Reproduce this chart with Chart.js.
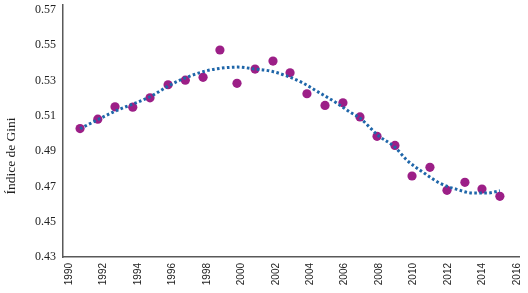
<!DOCTYPE html>
<html>
<head>
<meta charset="utf-8">
<script src="https://cdn.jsdelivr.net/npm/chart.js@4"></script>
<style>
  html, body { margin: 0; padding: 0; background: #fff; }
  #grafico { display: block; }
</style>
</head>
<body>
<canvas id="grafico" width="528" height="293"></canvas>
<script>
// puntos observados (año, índice de Gini)
const anios = [1990.64, 1991.67, 1992.67, 1993.70, 1994.70, 1995.75, 1996.75, 1997.78, 1998.76, 1999.75,
  2000.80, 2001.84, 2002.83, 2003.81, 2004.86, 2005.90, 2006.89, 2007.88, 2008.92, 2009.91,
  2010.95, 2011.94, 2012.98, 2013.97, 2015.01];
const gini = [0.5028, 0.5081, 0.5151, 0.5149, 0.5202, 0.5276, 0.5302, 0.5318, 0.5473, 0.5284,
  0.5365, 0.5410, 0.5344, 0.5225, 0.5159, 0.5174, 0.5094, 0.4984, 0.4932, 0.4759,
  0.4808, 0.4678, 0.4723, 0.4685, 0.4644];

// línea de tendencia
const tendAnios = [1990.64, 1992.67, 1994.70, 1995.75, 1996.44, 1997.78, 1998.76, 1999.80, 2000.80, 2001.67,
  2002.66, 2003.59, 2004.57, 2005.55, 2006.31, 2006.89, 2007.93, 2008.92, 2009.62, 2010.55,
  2011.53, 2012.52, 2013.45, 2014.26, 2015.01];
const tendValores = [0.5027, 0.5126, 0.5208, 0.5268, 0.5302, 0.5350, 0.5369, 0.5376, 0.5365, 0.5354,
  0.5325, 0.5285, 0.5229, 0.5172, 0.5121, 0.5087, 0.4990, 0.4922, 0.4848, 0.4780,
  0.4718, 0.4683, 0.4662, 0.4662, 0.4675];

const ticksX = [1990, 1992, 1994, 1996, 1998, 2000, 2002, 2004, 2006, 2008, 2010, 2012, 2014, 2016];
const ticksY = [0.43, 0.45, 0.47, 0.49, 0.51, 0.53, 0.55, 0.57];
const tituloY = 'Índice de Gini';

const puntos = anios.map((a, i) => ({x: a, y: gini[i]}));
const tendencia = tendAnios.map((a, i) => ({x: a, y: tendValores[i]}));

const colorEje = '#595959';

// el título del eje Y va algo más abajo que el centro del eje, como en el original
const tituloEjeY = {
  id: 'tituloEjeY',
  afterDraw(chart) {
    const ctx = chart.ctx;
    ctx.save();
    ctx.translate(11, 156);
    ctx.rotate(-Math.PI / 2);
    ctx.fillStyle = '#222';
    ctx.font = '13.5px "Liberation Serif"';
    ctx.textAlign = 'center';
    ctx.textBaseline = 'middle';
    ctx.fillText(tituloY, 0, 0);
    ctx.restore();
  }
};

const config = {
  type: 'scatter',
  data: {
    datasets: [
      {
        label: 'Tendencia',
        data: tendencia,
        showLine: true,
        cubicInterpolationMode: 'monotone',
        borderColor: '#1f66a9',
        borderWidth: 3,
        borderDash: [2.6, 2.4],
        pointRadius: 0,
        order: 0
      },
      {
        label: 'Gini',
        data: puntos,
        backgroundColor: '#9c1f87',
        borderColor: '#9c1f87',
        pointRadius: 4.6,
        pointBorderWidth: 0,
        order: 1
      }
    ]
  },
  options: {
    responsive: false,
    animation: false,
    layout: { padding: { top: 5, right: 9, left: 0, bottom: 0 } },
    plugins: {
      legend: { display: false },
      tooltip: { enabled: false }
    },
    scales: {
      x: {
        type: 'linear',
        min: 1989.65,
        max: 2016.12,
        afterBuildTicks: (scale) => { scale.ticks = ticksX.map(v => ({value: v})); },
        afterFit: (scale) => {
          scale.height = 36;
          scale.paddingLeft = 0;
          scale.paddingRight = 0;
        },
        grid: { display: false, drawTicks: false },
        border: { display: true, color: colorEje, width: 1.5 },
        ticks: {
          autoSkip: false,
          minRotation: 90,
          maxRotation: 90,
          padding: 6,
          color: '#222',
          font: { family: 'Liberation Sans', size: 10 },
          callback: (v) => String(v)
        }
      },
      y: {
        min: 0.43,
        max: 0.5728,
        afterBuildTicks: (scale) => { scale.ticks = ticksY.map(v => ({value: v})); },
        afterFit: (scale) => {
          scale.width = 63;
          scale.paddingTop = 0;
          scale.paddingBottom = 0;
        },
        grid: { display: false, drawTicks: false },
        border: { display: true, color: colorEje, width: 1.5 },
        title: { display: false },
        ticks: {
          padding: 7,
          color: '#222',
          font: { family: 'Liberation Serif', size: 12 },
          callback: (v) => v.toFixed(2)
        }
      }
    }
  },
  plugins: [tituloEjeY]
};

const grafico = new Chart(document.getElementById('grafico').getContext('2d'), config);
</script>
</body>
</html>
